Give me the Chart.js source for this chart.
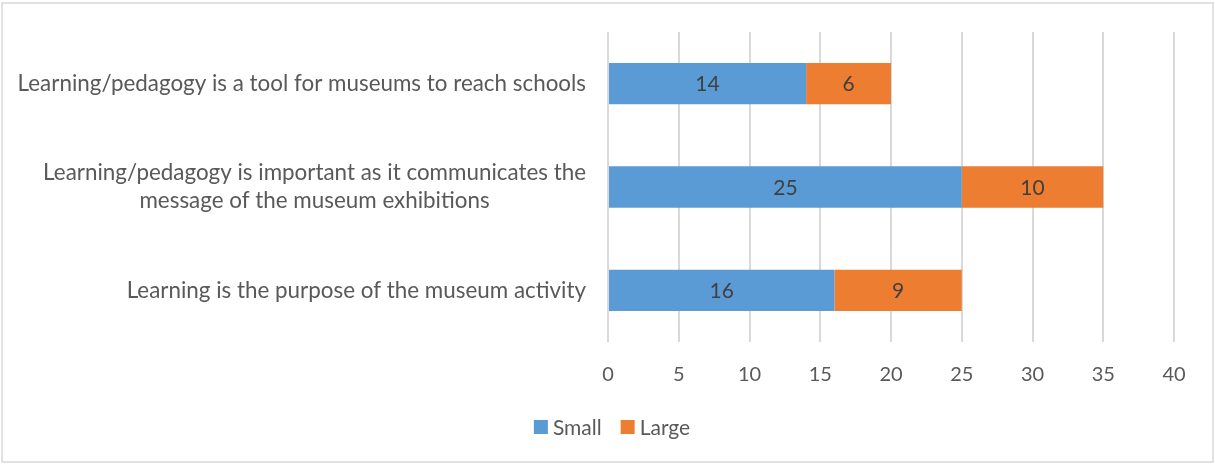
<!DOCTYPE html>
<html>
<head>
<meta charset="utf-8">
<script src="https://cdn.jsdelivr.net/npm/chart.js@4/dist/chart.umd.min.js"></script>
<style>
  html, body { margin: 0; padding: 0; background: #fff; }
  #wrap { width: 1215px; height: 465px; }
</style>
</head>
<body>
<div id="wrap"><canvas id="c" width="1215" height="465"></canvas></div>
<script>
// Survey statements (top to bottom) and counts per museum size
const statements = [
  ["Learning/pedagogy is a tool for museums to reach schools"],
  ["Learning/pedagogy is important as it communicates the", "message of the museum exhibitions"],
  ["Learning is the purpose of the museum activity"]
];
const smallMuseums = [14, 25, 16];
const largeMuseums = [6, 10, 9];
const seriesNames = ["Small", "Large"];
const seriesColors = ["#5B9BD5", "#ED7D31"];

const FONT = "Lato, 'Open Sans', sans-serif";
const LABEL_GREY = "#595959";

// Frame around the whole chart
const framePlugin = {
  id: 'frame',
  beforeDraw(chart) {
    const ctx = chart.ctx;
    ctx.save();
    ctx.fillStyle = '#ffffff';
    ctx.fillRect(0, 0, chart.width, chart.height);
    ctx.strokeStyle = '#d9d9d9';
    ctx.lineWidth = 1.5;
    ctx.strokeRect(2, 3, chart.width - 4, chart.height - 6);
    ctx.restore();
  }
};

// Category labels: single lines right-aligned, wrapped lines centred as a block
const categoryLabelPlugin = {
  id: 'categoryLabels',
  afterDraw(chart) {
    const ctx = chart.ctx;
    const y = chart.scales.y;
    const right = chart.chartArea.left - 22;
    const lh = 28;
    ctx.save();
    ctx.font = "22.4px " + FONT;
    ctx.fillStyle = LABEL_GREY;
    ctx.textBaseline = 'middle';
    chart.data.labels.forEach((lines, i) => {
      const cy = y.getPixelForTick(i);
      const widths = lines.map(l => ctx.measureText(l).width);
      const maxW = Math.max(...widths);
      const cx = right - maxW / 2;
      lines.forEach((l, k) => {
        const ly = cy + (k - (lines.length - 1) / 2) * lh;
        if (lines.length === 1) {
          ctx.textAlign = 'right';
          ctx.fillText(l, right, ly);
        } else {
          ctx.textAlign = 'center';
          ctx.fillText(l, cx, ly);
        }
      });
    });
    ctx.restore();
  }
};

// Value labels in the middle of each bar segment
const valueLabelPlugin = {
  id: 'valueLabels',
  afterDatasetsDraw(chart) {
    const ctx = chart.ctx;
    ctx.save();
    ctx.font = "21px " + FONT;
    ctx.fillStyle = "#404040";
    ctx.textAlign = 'center';
    ctx.textBaseline = 'middle';
    chart.data.datasets.forEach((ds, di) => {
      chart.getDatasetMeta(di).data.forEach((bar, i) => {
        const p = bar.getCenterPoint();
        ctx.fillText(String(ds.data[i]), p.x, p.y + 1);
      });
    });
    ctx.restore();
  }
};

// Legend below the axis, centred on the chart
const legendPlugin = {
  id: 'bottomLegend',
  afterDraw(chart) {
    const ctx = chart.ctx;
    ctx.save();
    ctx.font = "21px " + FONT;
    ctx.textBaseline = 'middle';
    ctx.textAlign = 'left';
    const box = 14, gapBox = 5, gapItem = 19;
    const items = chart.data.datasets.map(ds => ({
      text: ds.label, color: ds.backgroundColor, w: ctx.measureText(ds.label).width
    }));
    const total = items.reduce((s, it) => s + box + gapBox + it.w, 0) + gapItem * (items.length - 1);
    let x = 612 - total / 2;
    const cy = 427;
    items.forEach(it => {
      ctx.fillStyle = it.color;
      ctx.fillRect(x, cy - 7, box, box);
      x += box + gapBox;
      ctx.fillStyle = LABEL_GREY;
      ctx.fillText(it.text, x, cy + 1);
      x += it.w + gapItem;
    });
    ctx.restore();
  }
};

new Chart(document.getElementById('c'), {
  type: 'bar',
  data: {
    labels: statements,
    datasets: [
      { label: seriesNames[0], data: smallMuseums, backgroundColor: seriesColors[0] },
      { label: seriesNames[1], data: largeMuseums, backgroundColor: seriesColors[1] }
    ]
  },
  options: {
    indexAxis: 'y',
    responsive: false,
    animation: false,
    devicePixelRatio: 1,
    layout: { padding: { top: 32, right: 41, bottom: 73, left: 0 } },
    datasets: { bar: { categoryPercentage: 1, barPercentage: 0.4 } },
    plugins: { legend: { display: false }, tooltip: { enabled: false } },
    scales: {
      x: {
        stacked: true,
        min: 0,
        max: 40,
        ticks: { stepSize: 5, color: LABEL_GREY, font: { family: FONT, size: 20 }, padding: 21 },
        grid: { color: '#d9d9d9', lineWidth: 2, drawTicks: false },
        border: { display: false },
        afterFit(scale) { scale.height = 50; }
      },
      y: {
        stacked: true,
        ticks: { display: false },
        grid: { display: false },
        border: { display: false },
        afterFit(scale) { scale.width = 608; }
      }
    }
  },
  plugins: [framePlugin, categoryLabelPlugin, valueLabelPlugin, legendPlugin]
});
</script>
</body>
</html>
